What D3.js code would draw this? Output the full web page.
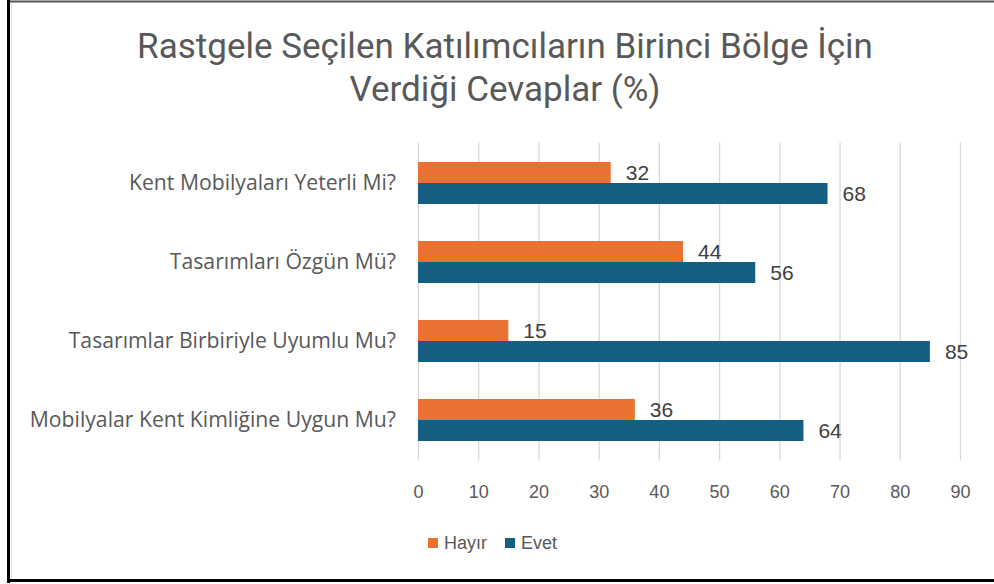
<!DOCTYPE html>
<html>
<head>
<meta charset="utf-8">
<script src="https://cdn.jsdelivr.net/npm/d3@7"></script>
<style>
  body { margin: 0; background: #fff; }
  svg { display: block; }
</style>
</head>
<body>
<div id="chart"></div>
<script>
// data
var categories = ["Kent Mobilyaları Yeterli Mi?", "Tasarımları Özgün Mü?",
                  "Tasarımlar Birbiriyle Uyumlu Mu?", "Mobilyalar Kent Kimliğine Uygun Mu?"];
var seriesNames = ["Hayır", "Evet"];
var hayir = [32, 44, 15, 36];
var evet = [68, 56, 85, 64];
var xTicks = [0, 10, 20, 30, 40, 50, 60, 70, 80, 90];
var titleLines = ["Rastgele Seçilen Katılımcıların Birinci Bölge İçin", "Verdiği Cevaplar (%)"];
var colors = ["#E97132", "#156082"];

var W = 994, H = 584;
var margin = {top: 143.5, right: 34, bottom: 124.5, left: 418};
var width = W - margin.left - margin.right,
    height = H - margin.top - margin.bottom;

var svg = d3.select("#chart").append("svg")
    .attr("width", W)
    .attr("height", H);

// frame like the screenshot (left, top, bottom edges)
svg.append("rect").attr("x", 0).attr("y", 0).attr("width", W).attr("height", H).attr("fill", "#fff");
svg.append("line").attr("x1", 8).attr("x2", W).attr("y1", 1.5).attr("y2", 1.5)
    .attr("stroke", "#555").attr("stroke-width", 2);
svg.append("line").attr("x1", 8.5).attr("x2", 8.5).attr("y1", 0).attr("y2", 583)
    .attr("stroke", "#000").attr("stroke-width", 3);
svg.append("line").attr("x1", 11.5).attr("x2", 11.5).attr("y1", 3).attr("y2", 579)
    .attr("stroke", "#ddd").attr("stroke-width", 1);
svg.append("line").attr("x1", 7).attr("x2", W).attr("y1", 580.5).attr("y2", 580.5)
    .attr("stroke", "#000").attr("stroke-width", 3);

// title
svg.append("text")
    .attr("x", 505)
    .attr("text-anchor", "middle")
    .style("font-family", "Roboto, sans-serif")
    .style("font-size", "35px")
    .style("fill", "#595959")
    .selectAll("tspan").data(titleLines).enter().append("tspan")
    .attr("x", 505)
    .attr("y", function(d, i) { return 58 + i * 43; })
    .text(function(d) { return d; });

var g = svg.append("g")
    .attr("transform", "translate(" + margin.left + "," + margin.top + ")");

// scales
var x = d3.scaleLinear().domain([0, 90]).range([0, width]);
var y0 = d3.scaleBand().domain(categories).range([0, height]).paddingInner(0).paddingOuter(0);
var y1 = d3.scaleBand().domain(seriesNames).range([y0.bandwidth() / 2 - 21, y0.bandwidth() / 2 + 21]);

// gridlines
g.append("g")
    .attr("transform", "translate(0," + (height + 1) + ")")
    .call(d3.axisBottom(x).tickValues(xTicks).tickSize(height + 2).tickFormat(""))
    .call(function(a) {
        a.select(".domain").remove();
        a.selectAll(".tick line").attr("stroke", "#d9d9d9").attr("stroke-width", 1.3)
            .attr("transform", "translate(0," + (-height - 2) + ")");
    });

// x axis labels
g.append("g")
    .attr("transform", "translate(0," + height + ")")
    .call(d3.axisBottom(x).tickValues(xTicks).tickSize(0).tickPadding(26))
    .call(function(a) {
        a.select(".domain").remove();
        a.selectAll("text").style("font-family", "'Liberation Sans', Arial, sans-serif")
            .style("font-size", "18px").style("fill", "#595959");
    });

// y axis labels
g.append("g")
    .call(d3.axisLeft(y0).tickSize(0).tickPadding(22))
    .call(function(a) {
        a.select(".domain").remove();
        a.selectAll("text").style("font-family", "'Open Sans', sans-serif")
            .style("font-size", "21.2px").style("fill", "#595959")
            .attr("dy", "0.34em");
    });

var rows = categories.map(function(c, i) {
    return {cat: c, values: [hayir[i], evet[i]]};
});

var grp = g.selectAll(".grp").data(rows).enter().append("g")
    .attr("transform", function(d) { return "translate(0," + y0(d.cat) + ")"; });

grp.selectAll("rect").data(function(d) {
        return d.values.map(function(v, j) { return {s: seriesNames[j], v: v, j: j}; });
    }).enter().append("rect")
    .attr("x", x(0))
    .attr("y", function(d) { return y1(d.s); })
    .attr("height", y1.bandwidth())
    .attr("width", function(d) { return x(d.v) - x(0); })
    .attr("fill", function(d) { return colors[d.j]; });

grp.selectAll(".lbl").data(function(d) {
        return d.values.map(function(v, j) { return {s: seriesNames[j], v: v}; });
    }).enter().append("text")
    .attr("x", function(d) { return x(d.v) + 15; })
    .attr("y", function(d) { return y1(d.s) + y1.bandwidth() / 2; })
    .attr("dy", "0.36em")
    .style("font-family", "'Liberation Sans', Arial, sans-serif")
    .style("font-size", "21px")
    .style("fill", "#404040")
    .text(function(d) { return d.v; });

// legend
var legend = svg.append("g").attr("transform", "translate(428,543)");
var li = legend.selectAll("g").data(seriesNames).enter().append("g")
    .attr("transform", function(d, i) { return "translate(" + (i * 77) + ",0)"; });
li.append("rect").attr("x", 0).attr("y", -5).attr("width", 10).attr("height", 10)
    .attr("fill", function(d, i) { return colors[i]; });
li.append("text").attr("x", 16).attr("dy", "0.36em")
    .style("font-family", "'Liberation Sans', Arial, sans-serif")
    .style("font-size", "18px").style("fill", "#595959")
    .text(function(d) { return d; });
</script>
</body>
</html>
